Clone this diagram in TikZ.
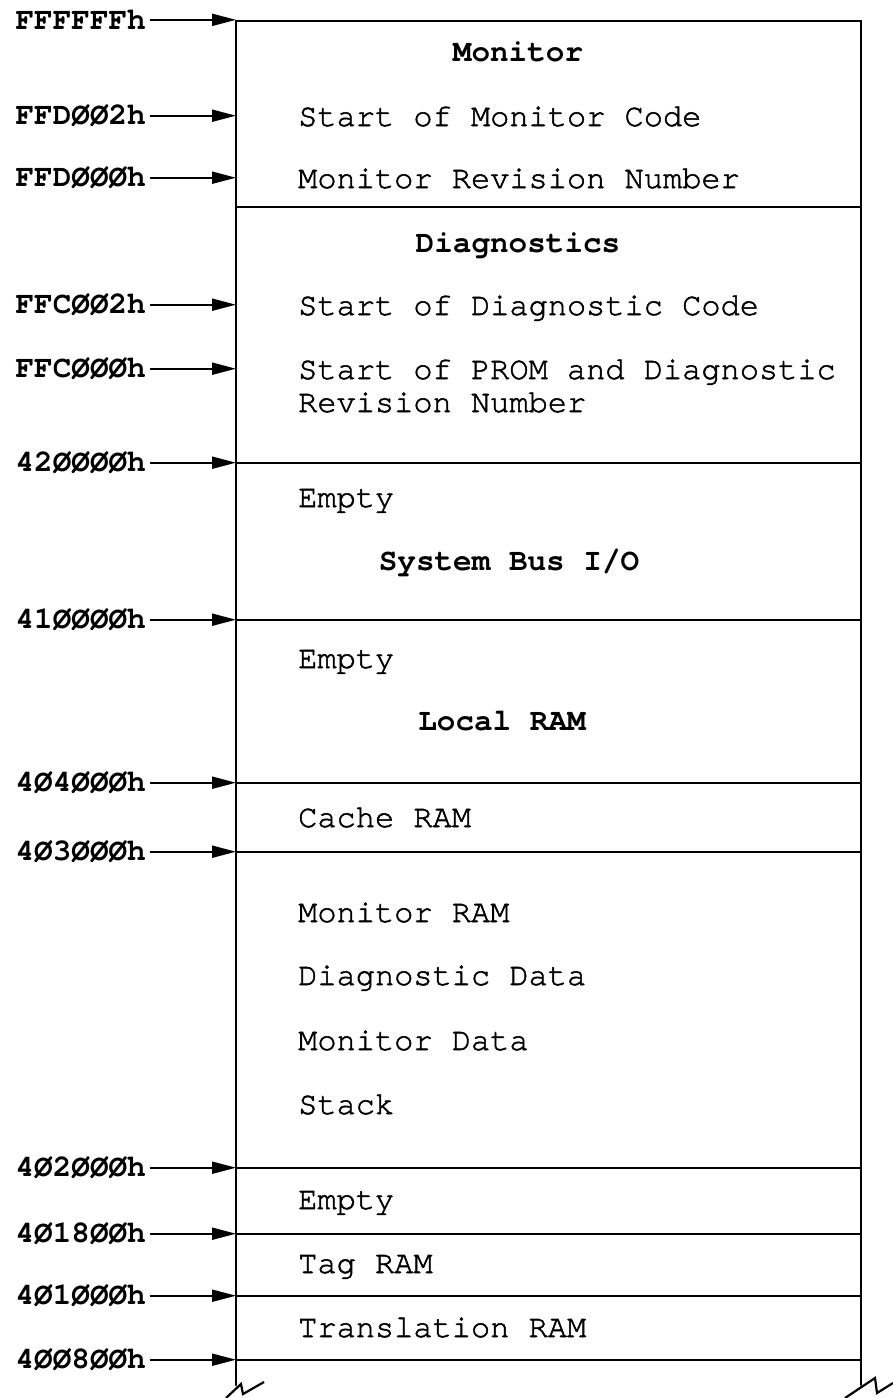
\documentclass[tikz,border=0pt]{standalone}
\usepackage{fontspec}
\setmainfont{texgyrecursor}[Extension=.otf, UprightFont=*-regular, BoldFont=*-bold, ItalicFont=*-italic, BoldItalicFont=*-bolditalic, UprightFeatures={FakeBold=1.6}]
\usetikzlibrary{arrows.meta}
\begin{document}
\begin{tikzpicture}[x=1pt,y=-1pt,
  boxline/.style={line width=2.6pt, line cap=round},
  sepline/.style={line width=2.2pt},
  brk/.style={line width=2.2pt},
  addr/.style={anchor=base east, inner sep=0pt, font=\fontsize{31}{31}\selectfont\bfseries},
  ptr/.style={line width=2pt, -{Triangle[length=24pt,width=12pt]}, shorten <=4pt},
  entry/.style={anchor=base west, inner sep=0pt, font=\fontsize{32}{32}\selectfont},
  head/.style={anchor=base, inner sep=0pt, font=\fontsize{31}{31}\selectfont\bfseries}]
\useasboundingbox (0,0) rectangle (893,1398);

% box outline
\coordinate (TL) at (236,21);
\coordinate (TR) at (861,21);
\coordinate (BL) at (236,1385);
\coordinate (BR) at (861,1385);
\draw[boxline] (BL) -- (TL) -- (TR) -- (BR);

% break marks
\draw[brk] (226,1398) -- (241,1384) -- (243,1394) -- (264,1382);
\draw[brk] (845,1398) -- (875,1378) -- (877,1393) -- (893,1383);

% separators
\foreach \n/\yy in {s1/207,s2/463,s3/620,s4/783,s5/852,s6/1168,s7/1234,s8/1296,s9/1360}{
  \coordinate (\n L) at (236,\yy);
  \coordinate (\n R) at (861,\yy);
  \draw[sepline] (\n L) -- (\n R);
}

% address labels and pointers
\foreach \n/\yy/\t in {a1/21/FFFFFFh, a2/116/FFDØØ2h, a3/178/FFDØØØh, a4/305/FFCØØ2h,
  a5/369/FFCØØØh, a6/463/42ØØØØh, a7/620/41ØØØØh, a8/783/4Ø4ØØØh, a9/852/4Ø3ØØØh,
  a10/1168/4Ø2ØØØh, a11/1234/4Ø18ØØh, a12/1296/4Ø1ØØØh, a13/1360/4ØØ8ØØh}{
  \coordinate (\n T) at (236,\yy);
  \node[addr] (\n) at (146,\yy+8.5) {\t};
  \draw[ptr] (\n.east) -- (\n.east -| \n T);
}

% headings
\node[head] (hMon) at (518,61) {Monitor};
\node[head] (hDia) at (518,252) {Diagnostics};
\node[head] (hSys) at (509,570) {System Bus I/O};
\node[head] (hLoc) at (502,730) {Local RAM};

% entries
\node[entry] (e1) at (298,126) {Start of Monitor Code};
\node[entry] (e2) at (298,188) {Monitor Revision Number};
\node[entry] (e3) at (298,315) {Start of Diagnostic Code};
\node[entry] (e4) at (298,379) {Start of PROM and Diagnostic};
\node[entry] (e5) at (298,412) {Revision Number};
\node[entry] (e6) at (298,507) {Empty};
\node[entry] (e7) at (298,668) {Empty};
\node[entry] (e8) at (298,827) {Cache RAM};
\node[entry] (e9) at (298,922) {Monitor RAM};
\node[entry] (e10) at (298,985) {Diagnostic Data};
\node[entry] (e11) at (298,1050) {Monitor Data};
\node[entry] (e12) at (298,1114) {Stack};
\node[entry] (e13) at (298,1209) {Empty};
\node[entry] (e14) at (298,1273) {Tag RAM};
\node[entry] (e15) at (298,1337) {Translation RAM};
\end{tikzpicture}
\end{document}
